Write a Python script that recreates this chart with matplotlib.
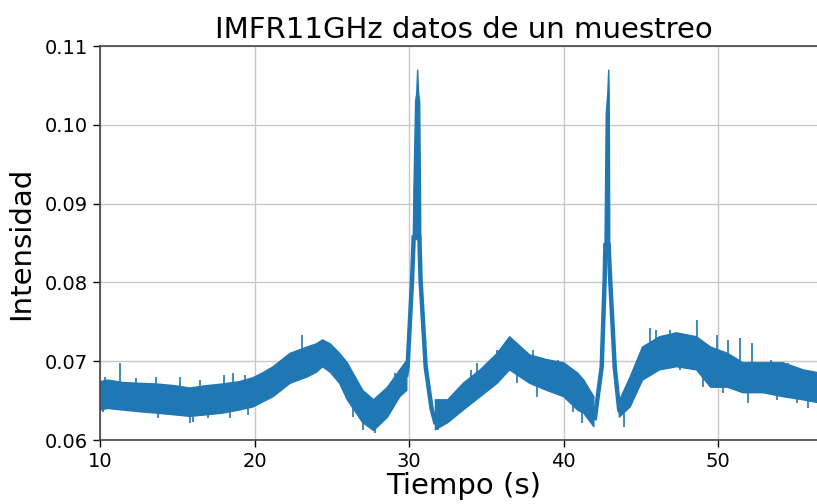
import matplotlib
matplotlib.use("Agg")
import matplotlib.pyplot as plt
import numpy as np

nan = np.nan

# Envelope of the noisy baseline (time in s, lower / upper bound); NaN leaves the spike regions open
tiempo = [10.0, 10.5, 11.5, 12.5, 13.7, 14.8, 15.8, 16.9, 17.9, 19.0, 19.9, 20.5, 21.2,
          22.3, 23.4, 24.0, 24.4, 24.9, 25.5, 26.0, 27.0, 27.7, 28.6, 29.4, 29.85,
          30.5,
          31.7, 32.5, 33.5, 34.6, 35.7, 36.5, 37.8, 38.9, 40.0, 40.9, 41.3, 41.95,
          42.8,
          43.6, 44.3, 45.1, 46.2, 47.3, 48.6, 49.5, 50.6, 51.6, 52.9, 54.2, 55.5, 57.1]
inferior = [0.0638, 0.0640, 0.0638, 0.0636, 0.0634, 0.0632, 0.0630, 0.0632, 0.0634, 0.0638, 0.0642, 0.0648, 0.0655,
            0.0672, 0.0680, 0.0686, 0.0693, 0.0686, 0.0672, 0.0651, 0.0622, 0.0612, 0.0629, 0.0655, 0.0663,
            nan,
            0.0613, 0.0622, 0.0638, 0.0655, 0.0672, 0.0689, 0.0672, 0.0663, 0.0655, 0.0638, 0.0634, 0.0617,
            nan,
            0.0629, 0.0642, 0.0676, 0.0689, 0.0693, 0.0689, 0.0667, 0.0667, 0.0660, 0.0660, 0.0655, 0.0651, 0.0645]
superior = [0.0674, 0.0676, 0.0673, 0.0672, 0.0671, 0.0669, 0.0666, 0.0669, 0.0671, 0.0674, 0.0679, 0.0685, 0.0693,
            0.0710, 0.0718, 0.0722, 0.0727, 0.0722, 0.0710, 0.0698, 0.0663, 0.0651, 0.0667, 0.0689, 0.0701,
            nan,
            0.0651, 0.0651, 0.0672, 0.0689, 0.0710, 0.0731, 0.0708, 0.0702, 0.0698, 0.0685, 0.0676, 0.0655,
            nan,
            0.0650, 0.0680, 0.0718, 0.0731, 0.0736, 0.0731, 0.0718, 0.0710, 0.0698, 0.0698, 0.0698, 0.0689, 0.0683]

# First spike: rising and falling flanks, and the saturated crest (lower / upper bound)
pico1_subida_t = [29.80, 29.90, 30.19, 30.30]
pico1_subida_v = [0.0680, 0.0693, 0.0803, 0.0860]
pico1_bajada_t = [30.66, 30.74, 31.07, 31.45, 31.72]
pico1_bajada_v = [0.0860, 0.0803, 0.0693, 0.0640, 0.0620]
cresta1_t = [30.24, 30.28, 30.39, 30.46, 30.52, 30.58, 30.65, 30.70, 30.72]
cresta1_inf = [0.0855, 0.0855, 0.0855, 0.0855, 0.0855, 0.0855, 0.0855, 0.0855, 0.0855]
cresta1_sup = [0.0860, 0.0921, 0.1031, 0.1040, 0.1070, 0.1040, 0.1031, 0.0921, 0.0860]

# Second spike
pico2_subida_t = [42.00, 42.46, 42.65, 42.70]
pico2_subida_v = [0.0625, 0.0693, 0.0803, 0.0850]
pico2_bajada_t = [42.90, 43.01, 43.30, 43.59, 43.68]
pico2_bajada_v = [0.0850, 0.0803, 0.0693, 0.0638, 0.0635]
cresta2_t = [42.64, 42.67, 42.72, 42.82, 42.88, 42.91, 42.93, 42.95]
cresta2_inf = [0.0845, 0.0845, 0.0845, 0.0845, 0.0845, 0.0845, 0.0845, 0.0845]
cresta2_sup = [0.0850, 0.0908, 0.1015, 0.1040, 0.1070, 0.1040, 0.0950, 0.0850]

# Isolated excursions of the trace beyond its envelope (time, extreme value)
pico_t = [10.2, 10.3, 11.2, 11.3, 12.3, 13.6, 13.75, 14.9, 15.2, 15.8, 16.0, 16.5, 17.0,
          18.0, 18.4, 18.6, 19.4, 19.6, 23.1, 26.4, 27.0, 27.8, 28.9, 29.1, 31.9,
          32.65, 34.0, 34.4, 35.7, 37.0, 38.0, 38.3, 39.6, 40.4, 40.6, 41.2, 43.9,
          45.6, 46.0, 46.9, 47.5, 48.6, 49.0, 49.9, 50.3, 50.6, 51.4, 51.9, 52.2,
          53.4, 53.8, 54.5, 55.1, 55.8]
pico_v = [0.0636, 0.0680, 0.0638, 0.0698, 0.0679, 0.0680, 0.0628, 0.0632, 0.0680, 0.0622, 0.0623, 0.0676, 0.0628,
          0.0682, 0.0628, 0.0685, 0.0682, 0.0632, 0.0733, 0.0629, 0.0613, 0.0609, 0.0638, 0.0685, 0.0613,
          0.0655, 0.0689, 0.0698, 0.0714, 0.0672, 0.0714, 0.0655, 0.0702, 0.0651, 0.0636, 0.0622, 0.0617,
          0.0742, 0.0740, 0.0740, 0.0689, 0.0752, 0.0667, 0.0733, 0.0660, 0.0727, 0.0729, 0.0647, 0.0723,
          0.0702, 0.0651, 0.0698, 0.0647, 0.0641]

color = "#1f77b4"

fig = plt.figure(figsize=(8.17, 5.04), dpi=100)
ax = fig.add_axes([100 / 817, 64 / 504, 728 / 817, 394 / 504])

ax.fill_between(tiempo, inferior, superior, color=color, linewidth=1.0, edgecolor=color)

for sub_t, sub_v, baj_t, baj_v, c_t, c_inf, c_sup in [
    (pico1_subida_t, pico1_subida_v, pico1_bajada_t, pico1_bajada_v, cresta1_t, cresta1_inf, cresta1_sup),
    (pico2_subida_t, pico2_subida_v, pico2_bajada_t, pico2_bajada_v, cresta2_t, cresta2_inf, cresta2_sup),
]:
    ax.plot(sub_t, sub_v, color=color, linewidth=3.2, solid_capstyle="butt")
    ax.plot(baj_t, baj_v, color=color, linewidth=3.2, solid_capstyle="butt")
    ax.fill_between(c_t, c_inf, c_sup, color=color, linewidth=1.0, edgecolor=color)

# Vertical strokes from the envelope out to each excursion
t_ok = [t for t, a in zip(tiempo, inferior) if not np.isnan(a)]
mid_ok = [(a + b) / 2 for a, b in zip(inferior, superior) if not np.isnan(a)]
base = np.interp(pico_t, t_ok, mid_ok)
ax.vlines(pico_t, base, pico_v, color=color, linewidth=1.2)

ax.set_xlim(10, 57.1)
ax.set_ylim(0.06, 0.11)
ax.set_xticks([10, 20, 30, 40, 50])
ax.set_yticks([0.06, 0.07, 0.08, 0.09, 0.10, 0.11])
ax.set_yticklabels(["0.06", "0.07", "0.08", "0.09", "0.10", "0.11"])
ax.grid(True, color="#c8c8c8", linewidth=1.0)
ax.set_axisbelow(True)
ax.tick_params(labelsize=14, length=5, width=1)
for s in ax.spines.values():
    s.set_color("#444444")
    s.set_linewidth(1.2)

ax.set_title("IMFR11GHz datos de un muestreo", fontsize=21, pad=6)
ax.set_xlabel("Tiempo (s)", fontsize=21, labelpad=1)
ax.set_ylabel("Intensidad", fontsize=21, labelpad=7)

fig.savefig("out.png", dpi=100)
